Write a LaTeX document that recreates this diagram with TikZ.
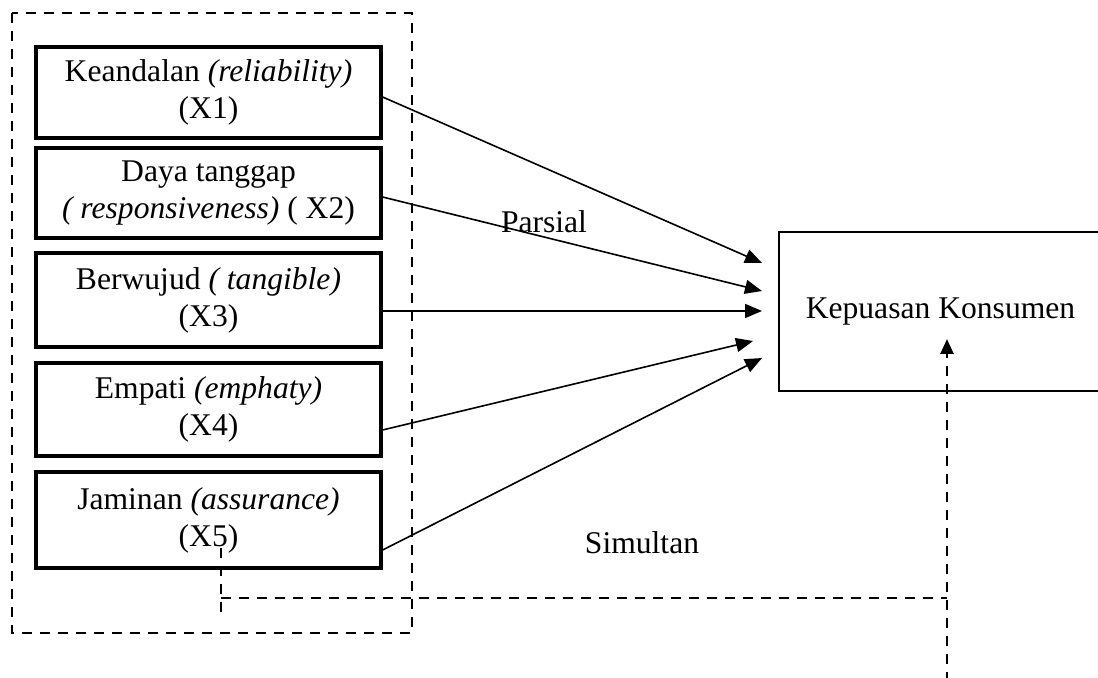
\documentclass[tikz,border=0pt]{standalone}
\usepackage{fontspec}
\setmainfont{Liberation Serif}
\usetikzlibrary{arrows.meta,calc}
\begin{document}
\begin{tikzpicture}[x=0.5pt,y=-0.5pt,
  varbox/.style={draw,line width=1.6pt,minimum width=172.5pt,align=center,inner sep=0pt,
    font=\fontsize{15.8}{18.5}\selectfont},
  depbox/.style={draw,line width=0.8pt,minimum width=161.5pt,minimum height=79.5pt,inner sep=0pt,
    font=\fontsize{15.8}{18.5}\selectfont},
  lbl/.style={font=\fontsize{15.8}{18.5}\selectfont,inner sep=0pt},
  conn/.style={line width=0.8pt,-{Triangle[length=8.5pt,width=7pt]}},
  dline/.style={line width=1.3pt,dash pattern=on 5pt off 4pt},
  darrow/.style={dline,-{Triangle[length=7.5pt,width=6.5pt]}}]
\useasboundingbox (0,0) rectangle (1098,678);
% outer dashed frame
\draw[dline] (12,13) rectangle (412,633);
% variable boxes
\node[varbox,minimum height=45.5pt] (b1) at (208.5,92.5) {Keandalan \textit{(reliability)}\\(X1)};
\node[varbox,minimum height=45pt] (b2) at (208.5,193) {Daya tanggap\\\textit{( responsiveness)} ( X2)};
\node[varbox,minimum height=47pt] (b3) at (208.5,300) {Berwujud \textit{( tangible)}\\(X3)};
\node[varbox,minimum height=46.5pt] (b4) at (208.5,409.5) {Empati \textit{(emphaty)}\\(X4)};
\node[varbox,minimum height=48pt] (b5) at (208.5,520) {Jaminan \textit{(assurance)}\\(X5)};
% dependent box
\node[depbox] (kk) at (940.5,311.5) {Kepuasan Konsumen};
% arrow tips
\coordinate (t1) at (762,263);
\coordinate (t2) at (762,291);
\coordinate (t3) at (762,311);
\coordinate (t4) at (753,341);
\coordinate (t5) at (762,358);
\draw[conn] ([yshift=-2.25pt]b1.east) -- (t1);
\draw[conn] ([yshift=-2pt]b2.east) -- (t2);
\draw[conn] ([yshift=-5.5pt]b3.east) -- (t3);
\draw[conn] ([yshift=-10.25pt]b4.east) -- (t4);
\draw[conn] ([yshift=-15pt]b5.east) -- (t5);
% labels
\node[lbl] (parsial) at (544,222) {Parsial};
\node[lbl] (simultan) at (642,543) {Simultan};
% simultaneous dashed connector
\coordinate (d0) at (221,548);
\coordinate (d1) at (221,613);
\coordinate (c1) at (221,598);
\coordinate (c2) at (947,598);
\coordinate (dbot) at (947,682);
\coordinate (dtip) at (947,339);
\draw[dline] (d0) -- (d1);
\draw[dline] (c1) -- (c2);
\draw[darrow] (dbot) -- (dtip);
\end{tikzpicture}
\end{document}
